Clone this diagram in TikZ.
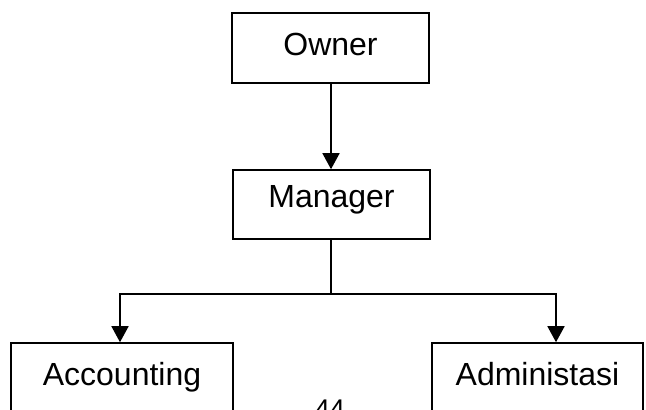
\documentclass[tikz,border=0pt]{standalone}
\usepackage{fontspec}
\setmainfont{Liberation Sans}
\usetikzlibrary{arrows.meta}
\begin{document}
\begin{tikzpicture}[x=1pt,y=-1pt,
  box/.style={draw=black,line width=1.6pt,fill=white,inner xsep=0pt,inner ysep=0pt,anchor=base,
    font=\fontsize{32}{32}\selectfont},
  conn/.style={line width=1.6pt,draw=black},
  arr/.style={conn,-{Triangle[width=17pt,length=16pt]}}]
\useasboundingbox (0,0) rectangle (646,410);
\clip (0,0) rectangle (646,410);
\node[box,minimum width=197pt,text height=42pt,text depth=28pt] (own) at (330.5,55) {Owner};
\node[box,minimum width=197pt,text height=37pt,text depth=32pt] (mgr) at (331.5,207) {Manager};
\node[box,minimum width=222pt,text height=42pt,text depth=45pt] (acc) at (122,385) {Accounting};
\node[box,minimum width=211pt,text height=42pt,text depth=45pt] (adm) at (537.5,385) {Administasi};
\coordinate (j) at (331,294);
\node[anchor=base,inner sep=0pt,font=\fontsize{27}{27}\selectfont] (pg) at (330,418) {44};
\draw[arr] (own.south -| j) -- (mgr.north -| j);
\draw[conn] (mgr.south -| j) -- (j);
\draw[arr] (j) -| ([xshift=-2pt]acc.north);
\draw[arr] (j) -| ([xshift=18.5pt]adm.north);
\end{tikzpicture}
\end{document}
